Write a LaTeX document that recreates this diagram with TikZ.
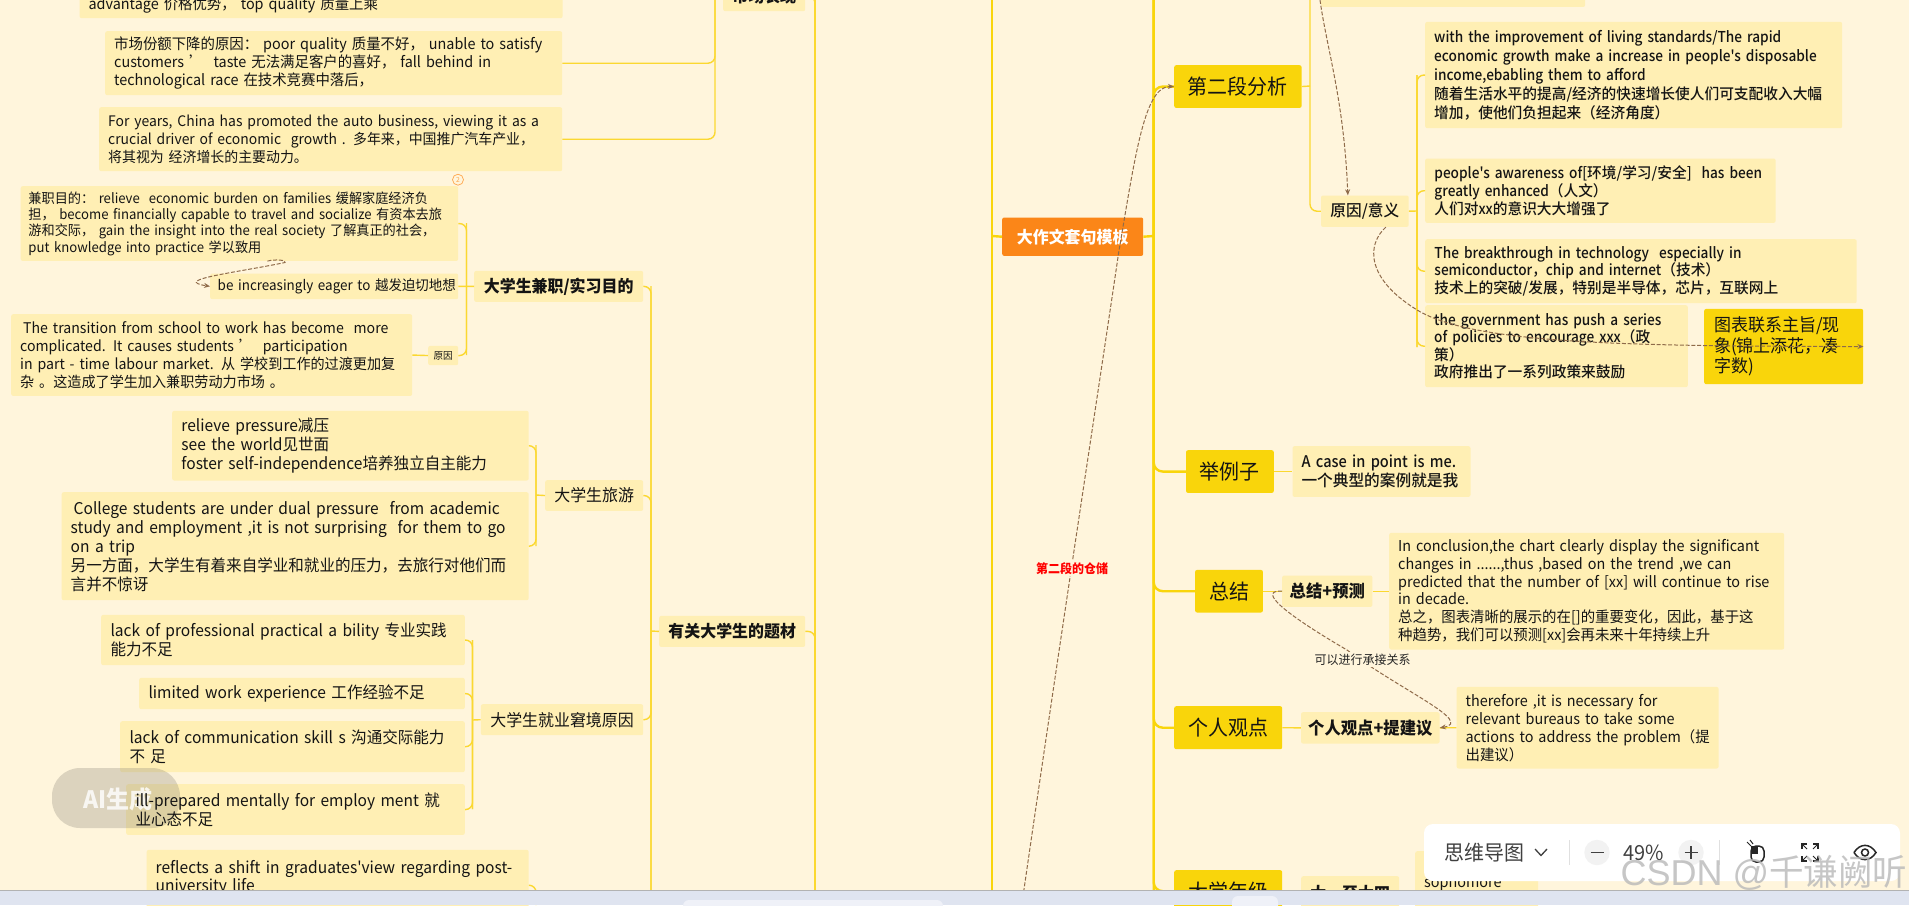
\documentclass[tikz,border=0pt]{standalone}
\usepackage{fontspec}
\setmainfont{Noto Sans CJK SC}[FakeStretch=0.96,Ligatures=TeXOff]
\newfontfamily\medf{Noto Sans CJK SC Medium}[FakeStretch=0.98,Ligatures=TeXOff]
\newfontfamily\medl{Noto Sans CJK SC Medium}[FakeStretch=0.91,Ligatures=TeXOff]
\newfontfamily\markf{Liberation Sans}
\usetikzlibrary{arrows.meta}
\definecolor{bgc}{HTML}{FFF5DC}
\definecolor{boxc}{HTML}{FFEFB4}
\definecolor{goldc}{HTML}{F9D50B}
\definecolor{linec}{HTML}{FBD830}
\definecolor{orangec}{HTML}{FB8618}
\definecolor{dashc}{HTML}{8F6B4A}
\definecolor{barc}{HTML}{DFE4F0}
\newcommand{\fs}[2]{\fontsize{#1}{#2}\selectfont}
\newcommand{\nw}{\rightskip=-60pt\relax\hyphenpenalty=10000\relax}
\tikzset{
  boxbase/.style={anchor=north west,rounded corners=2pt,inner ysep=0pt,inner xsep=9pt,align=left,text=black!92},
  leaf/.style={boxbase,fill=boxc},
  mid/.style={anchor=north west,rounded corners=2pt,inner sep=0pt,align=center,fill=boxc,text=black!92},
  golden/.style={anchor=north west,rounded corners=2pt,inner sep=0pt,align=center,fill=goldc,text=black!92,font=\fs{20.8}{24}},
  branch/.style={draw=linec,line width=1.4pt,rounded corners=7pt},
  trunk/.style={draw=goldc,line width=2.4pt,rounded corners=9pt},
  relation/.style={draw=dashc,line width=1pt,dash pattern=on 4pt off 1.8pt,-{Stealth[length=6pt,width=5pt]}},
  tag/.style={fill=bgc,inner xsep=1pt,inner ysep=2pt},
  barfill/.style={fill=barc,draw=none},
  icon/.style={draw=black!85,line width=1.5pt,fill=none},
}
\begin{document}
\begin{tikzpicture}[x=1pt,y=-1pt]
\useasboundingbox (0,0) rectangle (1909,905);
\fill[bgc] (0,0) rectangle (1909,905);

% left column
\node[leaf,minimum width=483pt,minimum height=26pt,text width=465pt,font=\fs{15}{18}] (nA) at (79.4,-8) {\nw advantage 价格优势， top quality 质量上乘};
\node[leaf,minimum width=457pt,minimum height=64pt,text width=439pt,font=\fs{15}{17.7}] (nB) at (105,31) {\nw 市场份额下降的原因： poor quality 质量不好， unable to satisfy\\customers ’ \ taste 无法满足客户的喜好， fall behind in\\technological race 在技术竞赛中落后，};
\node[leaf,minimum width=463pt,minimum height=64pt,text width=445pt,font=\fs{14.5}{17.7}] (nC) at (99,107) {\nw For years, China has promoted the auto business, viewing it as a\\crucial driver of economic \ growth . 多年来，中国推广汽车产业，\\将其视为 经济增长的主要动力。};
\node[mid,minimum width=82pt,minimum height=30pt,font=\bfseries\fs{16.6}{19}] (nTop) at (723,-19) {市场表现};

\node[leaf,minimum width=437.5pt,minimum height=74.7pt,text width=422pt,inner xsep=7.5pt,font=\fs{13.7}{16.4}] (nD) at (20.5,186) {\nw 兼职目的： relieve \ economic burden on families 缓解家庭经济负\\担， become financially capable to travel and socialize 有资本去旅\\游和交际， gain the insight into the real society 了解真正的社会，\\put knowledge into practice 学以致用};
\node[leaf,minimum width=248pt,minimum height=25.7pt,text width=233pt,inner xsep=7.5pt,font=\fs{14}{17}] (nE) at (210,273.3) {\nw be increasingly eager to 越发迫切地想\par};
\node[leaf,minimum width=401pt,minimum height=81.7pt,text width=383pt,font=\fs{14.7}{17.9}] (nF) at (11,314) {\nw\hspace*{3pt}The transition from school to work has become \ more\\complicated. It causes students ’ \ participation\\in part - time labour market. 从 学校到工作的过渡更加复\\杂 。这造成了学生加入兼职劳动力市场 。};
\node[mid,minimum width=30pt,minimum height=19.3pt,font=\fs{10}{12}] (nYuan) at (428,345.7) {原因};
\node[mid,minimum width=169pt,minimum height=31pt,font=\bfseries\fs{16.6}{19}] (nG) at (474,270.7) {大学生兼职/实习目的};

\node[leaf,minimum width=356.5pt,minimum height=69.6pt,text width=338pt,font=\fs{16.2}{19}] (nH) at (172,410.7) {\nw relieve pressure减压\\see the world见世面\\foster self-independence培养独立自主能力};
\node[leaf,minimum width=467pt,minimum height=108pt,text width=449pt,font=\fs{16.2}{19}] (nI) at (61.5,492) {\nw\hspace*{3pt}College students are under dual pressure \ from academic\\study and employment ,it is not surprising \ for them to go\\on a trip\\另一方面，大学生有着来自学业和就业的压力，去旅行对他们而\\言并不惊讶};
\node[mid,minimum width=98pt,minimum height=30.7pt,font=\fs{16.6}{19}] (nJ) at (545,480) {大学生旅游};

\node[leaf,minimum width=363.6pt,minimum height=50.3pt,text width=345pt,font=\fs{16.2}{19}] (nK) at (101,614.7) {\nw lack of professional practical a bility 专业实践\\能力不足};
\node[leaf,minimum width=325.6pt,minimum height=31.3pt,text width=307pt,font=\fs{16.2}{19}] (nL) at (139,677.7) {\nw limited work experience 工作经验不足};
\node[leaf,minimum width=344.6pt,minimum height=51pt,text width=326pt,font=\fs{16.2}{19}] (nM) at (120,721) {\nw lack of communication skill s 沟通交际能力\\不 足};
\node[leaf,minimum width=338.6pt,minimum height=50.7pt,text width=320pt] (nN) at (126,784) {};
\node[mid,minimum width=162.3pt,minimum height=31pt,font=\fs{16.6}{19}] (nO) at (480.7,704) {大学生就业窘境原因};
\node[leaf,minimum width=382pt,minimum height=70.6pt,text width=364pt,font=\fs{16.2}{18.5}] (nP) at (146.5,849.7) {\nw reflects a shift in graduates'view regarding post-\\university life\\\mbox{}};
\node[mid,minimum width=146pt,minimum height=31pt,font=\bfseries\fs{16.6}{19}] (nQ) at (659,615.7) {有关大学生的题材};

% AI badge, lying between the box and the text of nN
\fill[black!45!bgc,opacity=.3,rounded corners=28pt] (52,768) rectangle (180,828);
\node[text=white,opacity=.8,font=\bfseries\fs{24}{28}] (lAI) at (118,799) {AI生成};
\node[boxbase,minimum width=338.6pt,minimum height=50.7pt,text width=320pt,font=\fs{16.2}{19}] (nNt) at (126,784) {\nw ill-prepared mentally for employ ment 就\\业心态不足};

% centre
\node[anchor=north west,rounded corners=2pt,inner sep=0pt,fill=orangec,text=white,minimum width=141pt,minimum height=38.4pt,font=\bfseries\fs{16.6}{19}] (nRoot) at (1002,217.3) {大作文套句模板};

% right column
\node[golden,minimum width=127.4pt,minimum height=42.7pt] (nSec) at (1174,65) {第二段分析};
\node[mid,minimum width=264pt,minimum height=30pt] (nTopR) at (1321,-23.3) {};
\node[mid,minimum width=87.7pt,minimum height=31.4pt,font=\medf\fs{16}{19}] (nWhy) at (1320.8,195.3) {原因/意义};
\node[leaf,minimum width=417pt,minimum height=106.3pt,text width=399pt,font=\medf\fs{15}{18.9}] (nR1) at (1425,21.7) {\nw{\medl with the improvement of living standards/The rapid}\\{\medl economic growth make a increase in people's disposable}\\{\medl income,ebabling them to afford}\\随着生活水平的提高/经济的快速增长使人们可支配收入大幅\\增加，使他们负担起来（经济角度）};
\node[leaf,minimum width=350.4pt,minimum height=64.4pt,text width=332pt,font=\medf\fs{15}{17.8}] (nR2) at (1425,158.3) {\nw{\medl people's awareness of[}环境/学习/安全{\medl ] \ has been}\\{\medl greatly enhanced}（人文）\\人们对{\medl xx}的意识大大增强了};
\node[leaf,minimum width=431.5pt,minimum height=64pt,text width=413pt,font=\medf\fs{15}{17.4}] (nR3) at (1425,239) {\nw{\medl The breakthrough in technology \ especially in}\\{\medl semiconductor，chip and internet}（技术）\\技术上的突破/发展，特别是半导体，芯片，互联网上};
\node[leaf,minimum width=262.6pt,minimum height=82pt,text width=244.6pt,font=\medf\fs{15}{17.6}] (nR4) at (1425,305) {\nw{\medl the government has push a series}\\{\medl of policies to encourage xxx}（政\\策）\\政府推出了一系列政策来鼓励};
\node[anchor=north west,rounded corners=2pt,inner ysep=0pt,inner xsep=10pt,align=left,fill=goldc,text=black!92,minimum width=159pt,minimum height=75.3pt,text width=139pt,font=\fs{17.7}{20.4}] (nChart) at (1704,308.7) {\nw 图表联系主旨/现\\象(锦上添花，凑\\字数)};

\node[golden,minimum width=87.8pt,minimum height=42.7pt] (nEx) at (1185.8,450) {举例子};
\node[leaf,minimum width=178pt,minimum height=50.7pt,text width=160pt,font=\medf\fs{16}{18.6}] (nCase) at (1292.3,446) {\nw{\medl A case in point is me.}\\一个典型的案例就是我};
\node[golden,minimum width=67.8pt,minimum height=42.6pt] (nSum) at (1194.9,569.7) {总结};
\node[mid,minimum width=90.2pt,minimum height=31.4pt,font=\bfseries\fs{17}{18}] (nSumP) at (1282,575.3) {总结+预测};
\node[leaf,minimum width=395pt,minimum height=116.6pt,text width=377pt,font=\fs{15}{17.8}] (nConc) at (1389,532.7) {\nw In conclusion,the chart clearly display the significant\\changes in ......,thus ,based on the trend ,we can\\predicted that the number of [xx] will continue to rise\\in decade.\\总之，图表清晰的展示的在[]的重要变化，因此，基于这\\种趋势，我们可以预测[xx]会再未来十年持续上升};
\node[golden,minimum width=108pt,minimum height=43pt] (nOpin) at (1174,706) {个人观点};
\node[mid,minimum width=138.6pt,minimum height=31.3pt,font=\bfseries\fs{17}{18}] (nOpinP) at (1300.8,712) {个人观点+提建议};
\node[leaf,minimum width=262pt,minimum height=81.6pt,text width=244pt,font=\fs{15}{18}] (nThere) at (1456.4,686.7) {\nw therefore ,it is necessary for\\relevant bureaus to take some\\actions to address the problem（提\\出建议）};
\node[golden,minimum width=108pt,minimum height=42pt] (nGrade) at (1174,870) {大学年级};
\node[mid,minimum width=98pt,minimum height=34pt,font=\bfseries\fs{16.6}{19}] (nGradeP) at (1301,876) {大一至大四};
\node[leaf,minimum width=122.7pt,minimum height=64pt,text width=105pt,font=\fs{15}{18}] (nSoph) at (1415,851) {\nw sophomore};

% bus coordinates
\coordinate (aTop) at (715,0);
\coordinate (bTop) at (815,0);
\coordinate (bBot) at (815,892);
\coordinate (cTop) at (991.7,0);
\coordinate (cBot) at (991.7,892);
\coordinate (cMid) at (991.7,236);
\coordinate (dTop) at (1153.7,0);
\coordinate (dBot) at (1153.7,892);
\coordinate (dMid) at (1153.7,236);
\coordinate (eTop) at (1310,0);
\coordinate (eMid) at (1310,86);
\coordinate (fTop) at (1417,75);
\coordinate (fBot) at (1417,347);
\coordinate (fMid) at (1417,211);
\coordinate (gTop) at (466.5,223);
\coordinate (gBot) at (466.5,355);
\coordinate (gMid) at (466.5,286);
\coordinate (hTop) at (536,445);
\coordinate (hBot) at (536,546);
\coordinate (hMid) at (536,495);
\coordinate (iTop) at (472.5,640);
\coordinate (iBot) at (472.5,809);
\coordinate (iMid) at (472.5,720);
\coordinate (jTop) at (651,286);
\coordinate (jBot) at (651,892);
\coordinate (jMid) at (651,631);
\coordinate (pEnd) at (536,905);

% connectors
\draw[branch] (nB.east) -| (aTop);
\draw[branch] (nC.east) -| (aTop);
\draw[branch] (bTop) -- (bBot);
\draw[branch] (nTop.east) -| (bBot);
\draw[branch] (nQ.east) -| (bBot);
\draw[trunk] (cTop) -- (cBot);
\draw[trunk] (nRoot.west) -- (cMid);
\draw[trunk] (dTop) -- (dBot);
\draw[trunk] (nRoot.east) -- (dMid);
\draw[trunk] (nSec.west) -| (dBot);
\draw[trunk] (nEx.west) -| (dTop);
\draw[trunk] (nSum.west) -| (dTop);
\draw[trunk] (nOpin.west) -| (dTop);
\draw[trunk] (nGrade.west) -| (dTop);
\draw[branch] (nSec.east) -- (eMid);
\draw[branch] (nWhy.west) -| (eTop);
\draw[branch] (nWhy.east) -- (fMid);
\draw[branch] (nR1.west) -| (fBot);
\draw[branch] (nR2.west) -| (fBot);
\draw[branch] (nR3.west) -| (fTop);
\draw[branch] (nR4.west) -| (fTop);
\draw[branch] (nEx.east) -- (nCase.west);
\draw[branch] (nSum.east) -- (nSumP.west);
\draw[branch] (nSumP.east) -- (nConc.west);
\draw[branch] (nOpin.east) -- (nOpinP.west);
\draw[branch] (nOpinP.east) -- (nThere.west);
\draw[branch] (nD.east) -| (gBot);
\draw[branch] (nYuan.east) -| (gTop);
\draw[branch] (nE.east) -- (nG.west);
\draw[branch] (nF.east) -- (nYuan.west);
\draw[branch] (nH.east) -| (hBot);
\draw[branch] (nI.east) -| (hTop);
\draw[branch] (nJ.west) -- (hMid);
\draw[branch] (nK.east) -| (iBot);
\draw[branch] (nL.east) -| (iBot);
\draw[branch] (nM.east) -| (iTop);
\draw[branch] (nN.east) -| (iTop);
\draw[branch] (nO.west) -- (iMid);
\draw[branch] (nG.east) -| (jBot);
\draw[branch] (nJ.east) -| (jBot);
\draw[branch] (nO.east) -| (jTop);
\draw[branch] (nQ.west) -- (jMid);
\draw[branch] (nP.east) -| (pEnd);

% relation curves
\coordinate (longStart) at (1023.6,892);
\coordinate (longBend) at (1118.6,253);
\coordinate (topStart) at (1320,0);
\coordinate (whyBend) at (1420,311.7);
\coordinate (sumBend) at (1347,650);
\coordinate (eBend) at (285,262.5);
\draw[relation] (longStart) .. controls (1060,640) and (1100,380) .. (longBend) .. controls (1136,150) and (1145,86) .. (nSec.west);
\draw[relation] (topStart) .. controls (1327,50) and (1344,100) .. ([xshift=-17pt]nWhy.north);
\draw[relation] ([xshift=21pt]nWhy.south) .. controls (1366,245) and (1366,280) .. (whyBend) .. controls (1480,345) and (1640,346) .. (nChart.east);
\draw[relation] (nSumP.west) .. controls (1262,590) and (1270,605) .. (sumBend) .. controls (1400,690) and (1475,722) .. (nOpinP.east);
\draw[relation] ([xshift=28pt]nD.south) .. controls (275,259) and (287,260) .. (eBend) .. controls (240,272) and (170,280) .. (nE.west);

% labels on curves
\node[tag,text=red,font=\bfseries\fs{12.5}{14}] (lStore) at (1072,568.3) {第二段的仓储};
\node[tag,text=black!85,font=\fs{12.5}{14}] (lLink) at (1362.5,659.3) {可以进行承接关系};
\node[draw=orange!70,line width=.7pt,circle,minimum size=11pt,inner sep=0pt,text=orange!70,font=\fs{7}{8}] (lBadge) at (458,179.7) {2};

% bottom bar
\fill[barfill] (0,890) rectangle (1909,905);
\draw[black!30,line width=.8pt] (0,890) -- (1909,890);
\fill[white!50!barc,rounded corners=6pt] (683,900) rectangle (943,915);
\fill[white!50!barc,rounded corners=6pt] (1232,896) rectangle (1278,915);

% zoom panel
\fill[white,rounded corners=9pt] (1424,824) rectangle (1900,881);
\node[text=black!75,font=\fs{20.8}{24}] (lMode) at (1484.5,852.5) {思维导图};
\draw[black!75,line width=1.3pt] (1535,849) -- (1541,855.5) -- (1547,849);
\draw[black!12,line width=.8pt] (1569,840) -- (1569,865);
\fill[black!5] (1597,852.5) circle (12.7);
\draw[black!75,line width=1.3pt] (1590.5,852.5) -- (1603.5,852.5);
\node[text=black!75,font=\fs{20.8}{24}] (lZoom) at (1644,852.5) {49\%};
\fill[black!5] (1691,852.5) circle (12.7);
\draw[black!75,line width=1.3pt] (1684.5,852.5) -- (1697.5,852.5) (1691,846) -- (1691,859);
\draw[black!12,line width=.8pt] (1719.3,840) -- (1719.3,865);
% mouse icon
\draw[icon,rounded corners=5pt] (1751,846) rectangle (1764,862);
\fill[black!85] (1751,846) rectangle (1757.5,854);
\draw[icon,line width=1pt] (1747,842) -- (1751,846) (1750,840) -- (1753,844);
% fullscreen icon
\draw[icon] (1802,849) -- (1802,844) -- (1807,844) (1813,844) -- (1818,844) -- (1818,849) (1818,856) -- (1818,861) -- (1813,861) (1807,861) -- (1802,861) -- (1802,856);
\draw[icon,line width=1pt] (1802,844) -- (1807,849) (1818,844) -- (1813,849) (1818,861) -- (1813,856) (1802,861) -- (1807,856);
% eye icon
\draw[icon] (1854,852.5) .. controls (1860,843) and (1870,843) .. (1876,852.5) .. controls (1870,862) and (1860,862) .. (1854,852.5);
\draw[icon] (1865,852.5) circle (3.5);

% watermark
\node[text=black!28,opacity=.8,font=\fs{36}{40},anchor=west] (lMark) at (1617,873) {{\markf CSDN @}千谦阙听};
\end{tikzpicture}
\end{document}
